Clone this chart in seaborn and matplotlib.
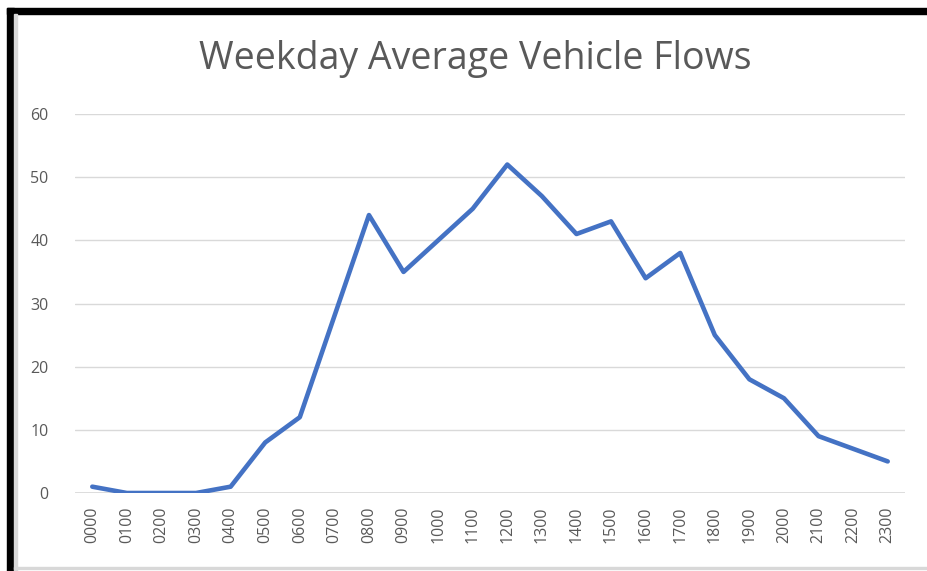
import pandas as pd
import matplotlib
matplotlib.use("Agg")
import matplotlib.pyplot as plt
import seaborn as sns
from matplotlib.patches import Rectangle

# hours of the day and average weekday vehicle flows
hours = ['0000', '0100', '0200', '0300', '0400', '0500', '0600', '0700',
         '0800', '0900', '1000', '1100', '1200', '1300', '1400', '1500',
         '1600', '1700', '1800', '1900', '2000', '2100', '2200', '2300']
flows = [1, 0, 0, 0, 1, 8, 12, 28, 44, 35, 40, 45, 52, 47, 41, 43,
         34, 38, 25, 18, 15, 9, 7, 5]
y_ticks = [0, 10, 20, 30, 40, 50, 60]

df = pd.DataFrame({'hour': hours, 'flow': flows})

sns.set_style("white")
plt.rcParams['font.family'] = ['Open Sans', 'DejaVu Sans']

fig = plt.figure(figsize=(9.28, 5.71), dpi=100)
ax = fig.add_axes([75 / 928, 1 - 493 / 571, 830 / 928, 379 / 571])

sns.lineplot(data=df, x='hour', y='flow', ax=ax, color='#4472C4',
             linewidth=3.3, sort=False)

ax.set_xlim(-0.5, len(hours) - 0.5)
ax.set_ylim(0, 60)
ax.set_yticks(y_ticks)
ax.set_xticks(range(len(hours)))
ax.set_xticklabels(hours, rotation=90)
ax.yaxis.grid(True, color='#d9d9d9', linewidth=1.0)
ax.set_axisbelow(True)
for side in ['top', 'right', 'left', 'bottom']:
    ax.spines[side].set_visible(False)
ax.axhline(0, color='#d9d9d9', linewidth=1.2, zorder=0)
ax.tick_params(axis='both', length=0, labelsize=11.5, colors='#595959')
ax.tick_params(axis='y', pad=19)
ax.tick_params(axis='x', pad=10)
ax.set_xlabel('')
ax.set_ylabel('')

fig.text(0.512, 1 - 59 / 571, 'Weekday Average Vehicle Flows', ha='center',
         va='center', fontsize=27, color='#595959')

# screenshot frame
fig.patches.append(Rectangle((7 / 928, 1 - 14 / 571), 1, 6 / 571, transform=fig.transFigure,
                             color='black', zorder=10))
fig.patches.append(Rectangle((7 / 928, 0), 7 / 928, 1 - 8 / 571, transform=fig.transFigure,
                             color='black', zorder=10))
fig.patches.append(Rectangle((14 / 928, 0), 3 / 928, 1 - 14 / 571, transform=fig.transFigure,
                             color='#d8d8d8', zorder=10))
fig.patches.append(Rectangle((14 / 928, 2 / 571), 1, 2 / 571, transform=fig.transFigure,
                             color='#d8d8d8', zorder=10))

fig.savefig('out.png', dpi=100)
